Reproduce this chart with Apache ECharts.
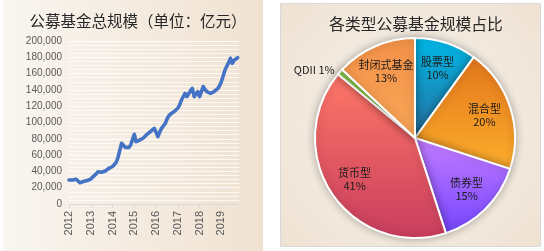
<!DOCTYPE html>
<html>
<head>
<meta charset="utf-8">
<script src="https://cdn.jsdelivr.net/npm/echarts@6/dist/echarts.min.js"></script>
<style>
html,body{margin:0;padding:0;background:#fff;}
#c{width:544px;height:251px;}
</style>
</head>
<body>
<div id="c"></div>
<script>
// ---- Data ----
var startYear = 2012;
var yearTicks = [2012, 2013, 2014, 2015, 2016, 2017, 2018, 2019];
// Monthly total public fund size (亿元), Jan 2012 .. Oct 2019
var monthlyValues = [
  29400, 29000, 29500, 29300, 30300, 30500, 26100, 27000, 27500, 28300, 28800, 29400,
  30500, 33000, 35000, 37000, 39600, 38400, 39000, 39600, 40500, 42000, 43800, 45000,
  46000, 47500, 51000, 57000, 66000, 74500, 72000, 69500, 68000, 69500, 72400, 73500,
  85500, 76400, 78000, 78500, 80000, 81000, 83000, 85500, 87500, 89000, 90000, 92900,
  88000, 82600, 88000, 92900, 95000, 98500, 104000, 108000, 110500, 112000, 113500, 115000,
  117500, 121500, 127600, 130000, 135800, 131700, 134000, 139000, 141900, 131700, 135000, 137800,
  131700, 138000, 143900, 140500, 137800, 136500, 135800, 137000, 138000, 139000, 141500, 145000,
  150100, 157000, 164400, 169000, 173500, 178800, 172500, 176500, 178800, 179500
];
var pieNames = ['股票型', '混合型', '债券型', '货币型', 'QDII', '封闭式基金'];
var pieValues = [10, 20, 15, 41, 1, 13];
var titleLeft = '公募基金总规模（单位：亿元）';
var titleRight = '各类型公募基金规模占比';

// ---- Build ----
function addCommas(v) {
  return String(v).replace(/\B(?=(\d{3})+(?!\d))/g, ',');
}
var lineData = monthlyValues.map(function (v, i) { return [startYear + i / 12, v]; });

function grad(a, b) {
  return new echarts.graphic.LinearGradient(0, 0, 0, 1, [
    { offset: 0, color: a }, { offset: 1, color: b }
  ]);
}
var pieColors = [
  grad('#00b9e8', '#276f9f'),
  grad('#e3761b', '#fcae2c'),
  grad('#c47dff', '#7545ff'),
  grad('#ff7767', '#c83d5e'),
  '#92d050',
  grad('#f39148', '#f8a657')
];

var mainPieData = pieNames.map(function (n, i) {
  var d = { name: n, value: pieValues[i], itemStyle: { color: pieColors[i] } };
  if (n === 'QDII') {
    d.label = { show: true };
  }
  return d;
});
var labelPieData = pieNames.map(function (n, i) {
  var d = { name: n, value: pieValues[i] };
  if (n === 'QDII') d.label = { show: false };
  return d;
});

var chart = echarts.init(document.getElementById('c'), null, { renderer: 'canvas' });
chart.setOption({
  animation: false,
  backgroundColor: '#ffffff',
  textStyle: { fontFamily: 'Noto Sans CJK SC, sans-serif' },
  graphic: [
    {
      type: 'rect', z: -10, silent: true,
      shape: { x: 3, y: 0, width: 260, height: 251 },
      style: {
        fill: new echarts.graphic.LinearGradient(0, 0, 1, 0, [
          { offset: 0, color: '#f9f5f0' }, { offset: 1, color: '#f0e2d1' }
        ])
      }
    },
    {
      type: 'rect', z: -10, silent: true,
      shape: { x: 280.5, y: 3.5, width: 260, height: 243 },
      style: {
        fill: new echarts.graphic.RadialGradient(0.5, 0.5, 0.75, [
          { offset: 0, color: '#f8f4ef' }, { offset: 1, color: '#eee1d1' }
        ]),
        stroke: '#d9d9d9', lineWidth: 1
      }
    }
  ],
  title: [
    {
      text: titleLeft, left: 133, top: 8, textAlign: 'center',
      textStyle: { fontSize: 15.5, fontWeight: 'normal', color: '#262626', fontFamily: 'Noto Sans CJK SC' }
    },
    {
      text: titleRight, left: 411, top: 11, textAlign: 'center',
      textStyle: { fontSize: 15.8, fontWeight: 'normal', color: '#262626', fontFamily: 'Noto Sans CJK SC' }
    }
  ],
  grid: { left: 69, right: 305, top: 41, bottom: 47, containLabel: false },
  xAxis: {
    type: 'value', min: 2012, max: 2019.81,
    axisLine: { show: true, lineStyle: { color: '#d9d9d9', width: 1 } },
    axisTick: { show: true, customValues: yearTicks, length: 4, lineStyle: { color: '#d9d9d9' } },
    axisLabel: {
      customValues: yearTicks, rotate: 90, margin: 7,
      fontSize: 11, color: '#595959', fontFamily: 'Liberation Sans',
      formatter: function (v) { return String(v); }
    },
    splitLine: { show: false }
  },
  yAxis: {
    type: 'value', min: 0, max: 200000, interval: 20000,
    axisLine: { show: false }, axisTick: { show: false },
    axisLabel: {
      fontSize: 10, color: '#595959', margin: 7, fontFamily: 'Liberation Sans',
      formatter: function (v) { return addCommas(v); }
    },
    splitLine: { show: true, lineStyle: { color: '#ffffff', width: 1, opacity: 0.9 } },
    minorTick: { show: false, splitNumber: 4 },
    minorSplitLine: { show: true, lineStyle: { color: '#ffffff', width: 1, opacity: 0.75 } }
  },
  series: [
    {
      type: 'line', data: lineData, showSymbol: false, symbol: 'none',
      lineStyle: { color: '#4472c4', width: 3.6, cap: 'round', join: 'round' },
      z: 5
    },
    {
      type: 'pie', center: [415, 138], radius: [0, 100], startAngle: 90, clockwise: true,
      silent: true, avoidLabelOverlap: false,
      data: mainPieData,
      itemStyle: { borderColor: '#ffffff', borderWidth: 2, shadowBlur: 8, shadowColor: 'rgba(0,0,0,0.28)' },
      label: {
        show: false, position: 'outside', formatter: '{b} {d}%',
        fontSize: 11, color: '#1a1a1a', fontFamily: 'Noto Sans CJK SC', distanceToLabelLine: 0
      },
      labelLine: { show: false, length: 3, length2: 3 },
      emphasis: { disabled: true }
    },
    {
      type: 'pie', center: [415, 138], radius: [40, 100], startAngle: 90, clockwise: true,
      silent: true, avoidLabelOverlap: false,
      data: labelPieData,
      itemStyle: { color: 'rgba(0,0,0,0)', borderWidth: 0 },
      label: {
        show: true, position: 'inside', formatter: '{b}\n{d}%',
        fontSize: 11, lineHeight: 13, color: '#1a1a1a', fontFamily: 'Noto Sans CJK SC'
      },
      labelLine: { show: false },
      emphasis: { disabled: true },
      z: 6
    }
  ]
});
</script>
</body>
</html>
